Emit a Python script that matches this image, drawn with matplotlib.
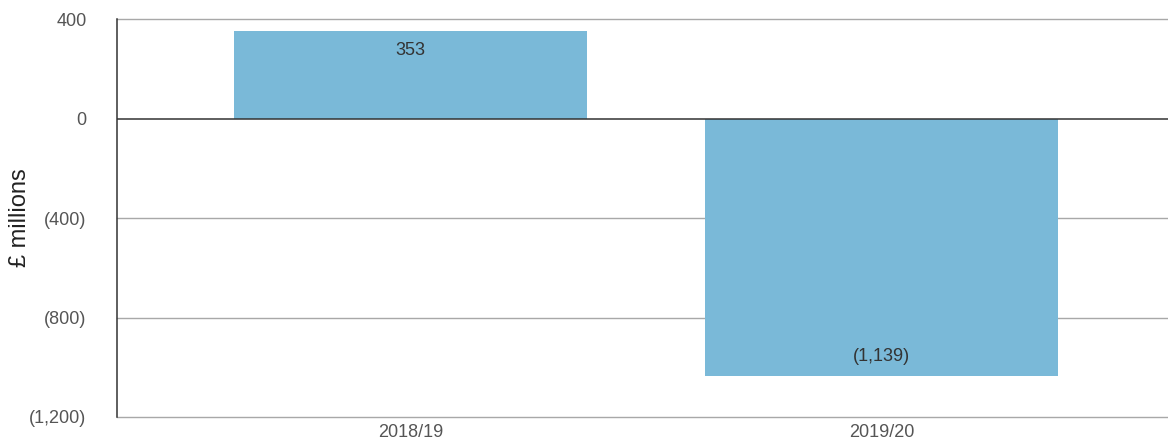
import matplotlib
matplotlib.use("Agg")
import matplotlib.pyplot as plt

categories = ["2018/19", "2019/20"]
values = [353, -1035]
value_labels = ["353", "(1,139)"]
yticks = [400, 0, -400, -800, -1200]
ytick_labels = ["400", "0", "(400)", "(800)", "(1,200)"]

plt.rcParams['font.family'] = ['Liberation Sans', 'DejaVu Sans']

fig = plt.figure(figsize=(11.68, 4.43), dpi=100)
ax = fig.add_axes([0.1002, 0.0587, 0.8998, 0.8983])

x = list(range(len(categories)))
bars = ax.bar(x, values, width=0.75, color="#7ab9d8", zorder=2)

ax.set_xlim(-0.623, 1.608)
ax.set_ylim(-1200, 400)
ax.set_yticks(yticks)
ax.set_yticklabels(ytick_labels)
ax.set_xticks(x)
ax.set_xticklabels(categories)

for yv in [400, -400, -800, -1200]:
    ax.axhline(yv, color="#a8a8a8", lw=1.0, zorder=1, clip_on=False)
ax.axhline(0, color="#333333", lw=1.1, zorder=3)

for s in ["top", "right", "bottom"]:
    ax.spines[s].set_visible(False)
ax.spines["left"].set_color("#333333")
ax.spines["left"].set_linewidth(1.1)

ax.tick_params(axis="both", length=0, labelsize=13, colors="#555555")
ax.tick_params(axis="x", pad=5)
ax.tick_params(axis="y", pad=22)

ax.set_ylabel("£ millions", fontsize=17, color="#222222")
ax.yaxis.set_label_coords(-0.082, 0.5)

for xi, v, t in zip(x, values, value_labels):
    if v >= 0:
        ax.annotate(t, (xi, v), xytext=(0, -14), textcoords="offset points",
                    ha="center", va="center", fontsize=13, color="#333333", zorder=4)
    else:
        ax.annotate(t, (xi, v), xytext=(0, 14), textcoords="offset points",
                    ha="center", va="center", fontsize=13, color="#333333", zorder=4)

fig.savefig("out.png", dpi=100)
